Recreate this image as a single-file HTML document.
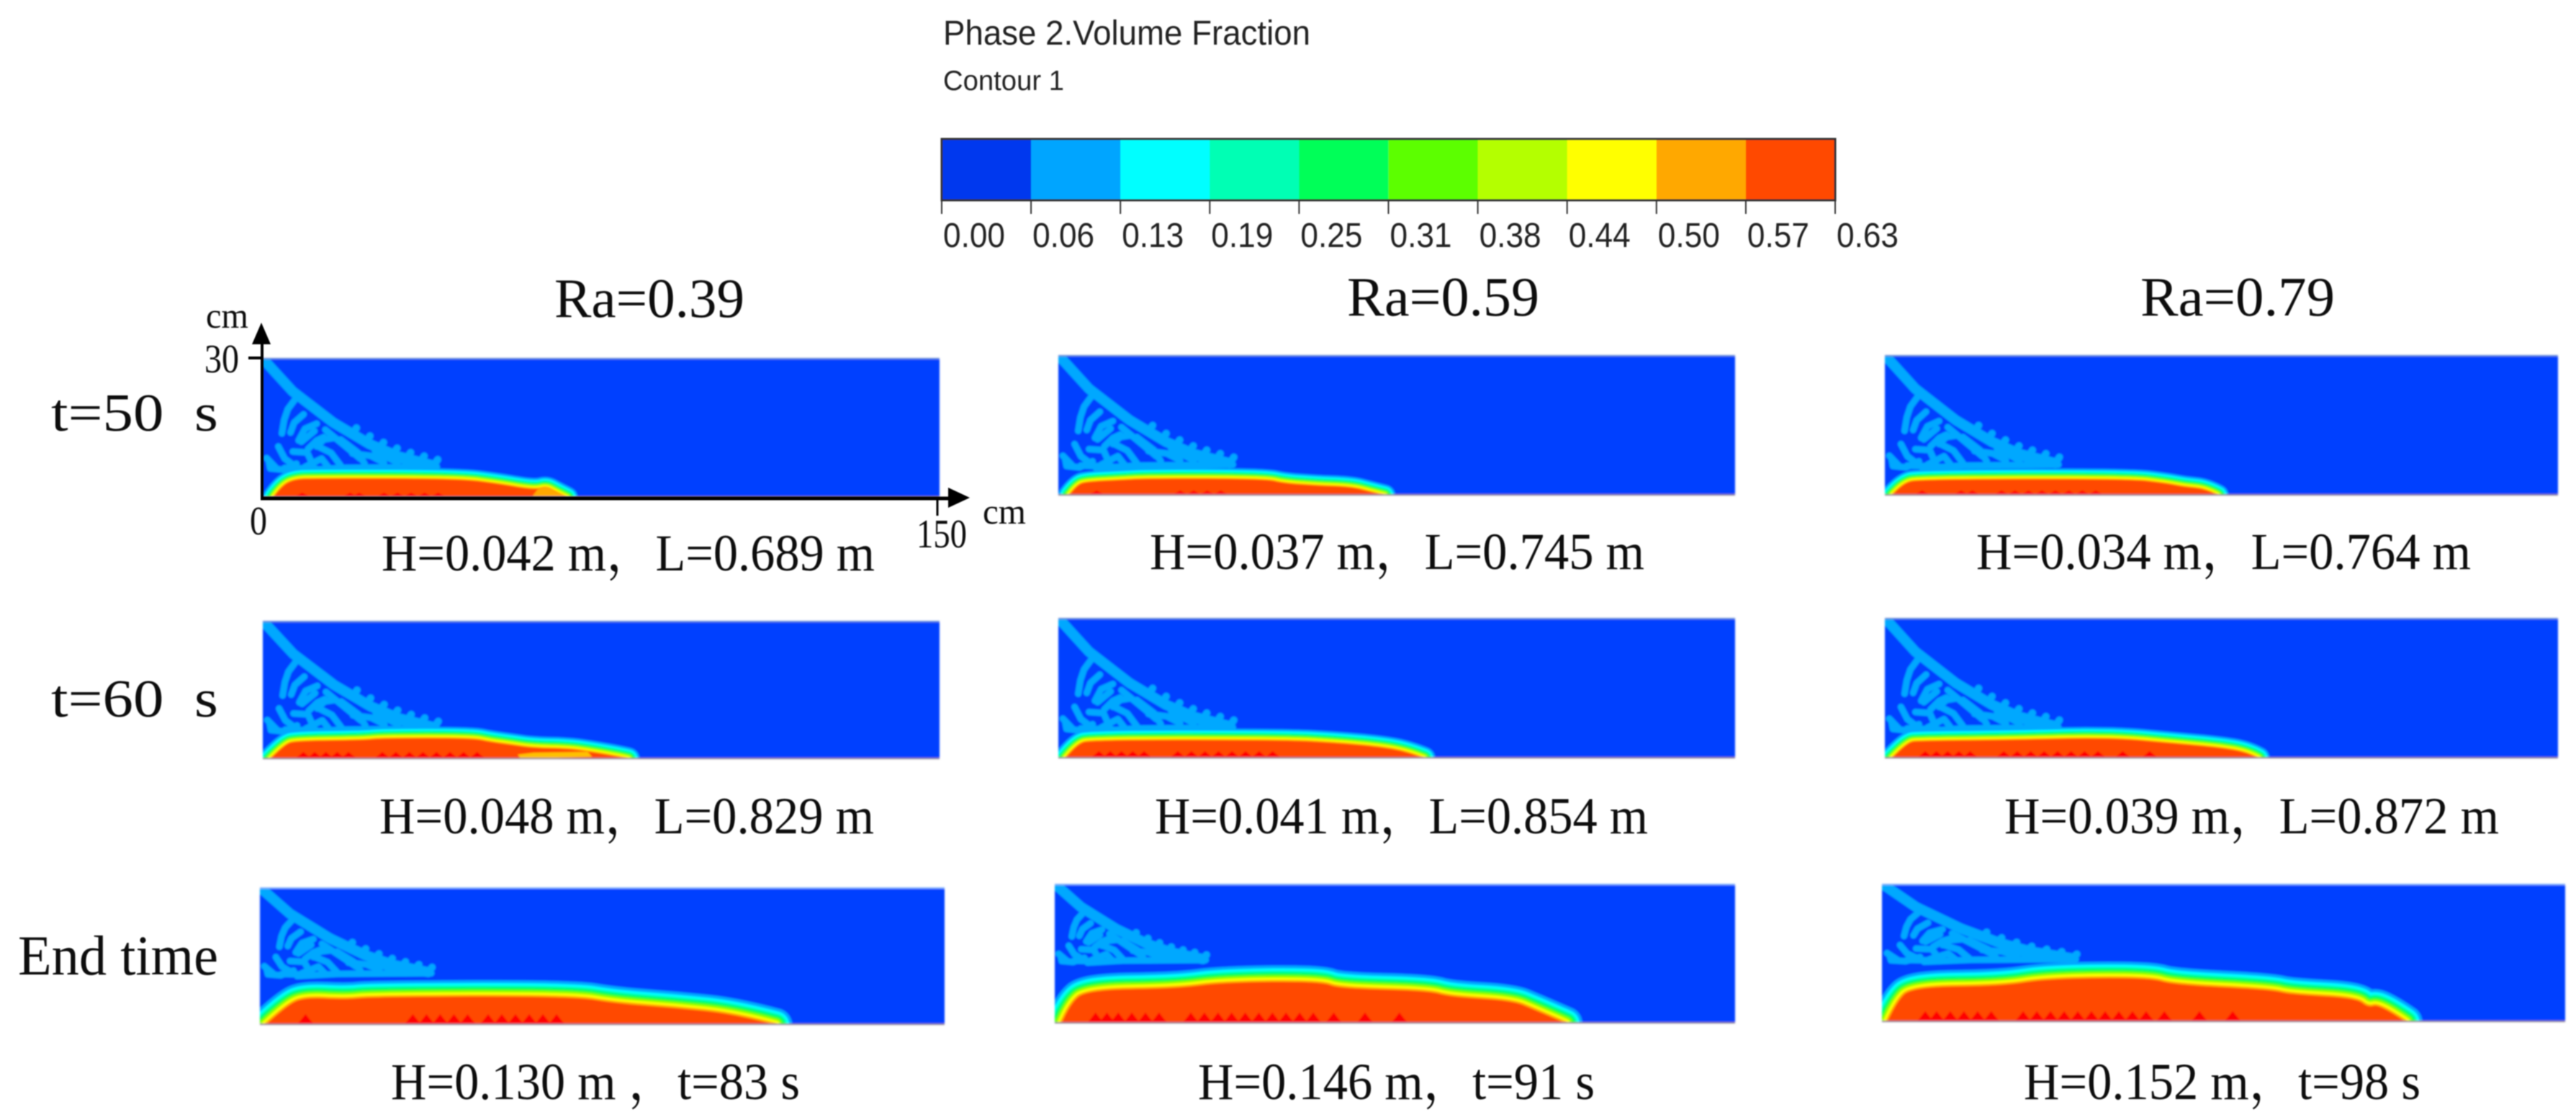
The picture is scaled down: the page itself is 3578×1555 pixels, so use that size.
<!DOCTYPE html>
<html lang="en">
<head>
<meta charset="utf-8">
<title>Phase 2 Volume Fraction Contours</title>
<style>
html,body{margin:0;padding:0;background:#fff;}
svg{display:block;}
.sans{font-family:"Liberation Sans",sans-serif;fill:#222;}
.serif{font-family:"Liberation Serif","Noto Serif CJK SC",serif;fill:#111;}
</style>
</head>
<body>
<svg id="figure" xmlns="http://www.w3.org/2000/svg" width="3578" height="1555" viewBox="0 0 3578 1555">
<defs>
<filter id="soft" x="-2%" y="-2%" width="104%" height="104%"><feGaussianBlur stdDeviation="1.2"/></filter>
<filter id="softText" x="-2%" y="-2%" width="104%" height="104%"><feGaussianBlur stdDeviation="0.7"/></filter>
</defs>
<rect width="3578" height="1555" fill="#fff"/>
<g id="panels" filter="url(#soft)"></g>
<g id="colorbar" filter="url(#softText)"></g>
<g filter="url(#softText)">
<text class="sans" x="1310" y="62" font-size="48" textLength="510" lengthAdjust="spacingAndGlyphs">Phase 2.Volume Fraction</text>
<text class="sans" x="1310" y="125" font-size="39" textLength="168" lengthAdjust="spacingAndGlyphs">Contour 1</text>
</g>
<g filter="url(#softText)">
<line x1="364" y1="470" x2="364" y2="694" stroke="#000" stroke-width="4"/>
<polygon points="363,448 350,478 376,478" fill="#000"/>
<line x1="362" y1="692" x2="1320" y2="692" stroke="#000" stroke-width="5"/>
<polygon points="1347,691 1317,677 1317,705" fill="#000"/>
<line x1="345" y1="497" x2="364" y2="497" stroke="#000" stroke-width="4"/>
<line x1="1302" y1="692" x2="1302" y2="716" stroke="#000" stroke-width="3"/>
</g>
<g filter="url(#softText)">
<text class="serif" x="286" y="455" font-size="50" textLength="59" lengthAdjust="spacingAndGlyphs">cm</text>
<text class="serif" x="284" y="517" font-size="56" textLength="48" lengthAdjust="spacingAndGlyphs">30</text>
<text class="serif" x="347" y="742" font-size="56" textLength="24" lengthAdjust="spacingAndGlyphs">0</text>
<text class="serif" x="1273" y="760" font-size="56" textLength="70" lengthAdjust="spacingAndGlyphs">150</text>
<text class="serif" x="1365" y="727" font-size="50" textLength="60" lengthAdjust="spacingAndGlyphs">cm</text>

<text class="serif" x="770" y="440" font-size="77" textLength="264" lengthAdjust="spacingAndGlyphs">Ra=0.39</text>
<text class="serif" x="1871" y="438" font-size="77" textLength="267" lengthAdjust="spacingAndGlyphs">Ra=0.59</text>
<text class="serif" x="2973" y="438" font-size="77" textLength="270" lengthAdjust="spacingAndGlyphs">Ra=0.79</text>

<text class="serif" x="71" y="598" font-size="74" textLength="232" lengthAdjust="spacingAndGlyphs">t=50&#160;&#160;s</text>
<text class="serif" x="71" y="995" font-size="74" textLength="232" lengthAdjust="spacingAndGlyphs">t=60&#160;&#160;s</text>
<text class="serif" x="25" y="1353" font-size="78" textLength="278" lengthAdjust="spacingAndGlyphs">End time</text>

<text class="serif" x="530" y="792" font-size="72" textLength="685" lengthAdjust="spacingAndGlyphs">H=0.042 m，L=0.689 m</text>
<text class="serif" x="1597" y="790" font-size="72" textLength="687" lengthAdjust="spacingAndGlyphs">H=0.037 m，L=0.745 m</text>
<text class="serif" x="2745" y="790" font-size="72" textLength="687" lengthAdjust="spacingAndGlyphs">H=0.034 m，L=0.764 m</text>
<text class="serif" x="527" y="1157" font-size="72" textLength="687" lengthAdjust="spacingAndGlyphs">H=0.048 m，L=0.829 m</text>
<text class="serif" x="1604" y="1157" font-size="72" textLength="685" lengthAdjust="spacingAndGlyphs">H=0.041 m，L=0.854 m</text>
<text class="serif" x="2784" y="1157" font-size="72" textLength="687" lengthAdjust="spacingAndGlyphs">H=0.039 m，L=0.872 m</text>
<text class="serif" x="543" y="1526" font-size="72" textLength="568" lengthAdjust="spacingAndGlyphs">H=0.130 m ，t=83 s</text>
<text class="serif" x="1664" y="1526" font-size="72" textLength="551" lengthAdjust="spacingAndGlyphs">H=0.146 m，t=91 s</text>
<text class="serif" x="2811" y="1526" font-size="72" textLength="551" lengthAdjust="spacingAndGlyphs">H=0.152 m，t=98 s</text>
</g>
</svg>
<script>
// ---- Colorbar data ----
const colorbarTickLabels = ['0.00','0.06','0.13','0.19','0.25','0.31','0.38','0.44','0.50','0.57','0.63'];
const colorbarColors = ['#0038ee','#00a5ff','#00ffff','#00ffb4','#00ff59','#5cff00','#b4ff00','#ffff00','#ffa800','#ff4800'];

// ---- Sediment bed 0.57 contour: distance x (cm), height h (cm) ----
const r1c1X = [2.5,4.1,6.8,12,44,52,58,61,63,65,67.5];
const r1c1H = [0,2.2,3.9,4.1,4.0,3.0,2.0,1.8,2.3,1.2,0];
const r1c2X = [2.4,4.2,6.4,14.4,19.7,46,50,57,65,69,72.3];
const r1c2H = [0,2.3,2.9,3.3,3.6,3.5,2.6,2.1,1.8,0.8,0];
const r1c3X = [1.6,4,7.7,54.5,62.5,66.8,71.5,74.2];
const r1c3H = [0,2.6,3.4,3.5,2.6,1.8,1.4,0];
const r2c1X = [1.7,4.9,7.4,22.5,26.3,46.5,50.3,55,59.7,68,73,79.3,81];
const r2c1H = [0,3.2,3.9,4.1,4.5,4.5,3.7,3.1,2.4,2.2,1.5,0.4,0];
const r2c2X = [1.6,4.1,7.2,50,61.4,70.9,77.2,81];
const r2c2H = [0,3,3.9,3.9,3.3,2.5,1.45,0];
const r2c3X = [1.6,5,7.5,27,50.4,65,74.4,80.7,83.2];
const r2c3H = [0,3.4,3.7,3.9,4.4,3.1,2.3,1.3,0];
const r3c1X = [1.3,5.8,9.8,18.9,24.1,68.6,77.8,90.8,103.9,113];
const r3c1H = [0,4.2,6,5.5,6.1,6.2,4.7,3.7,2.4,0];
const r3c2X = [1.5,3.3,7,27,37,58.9,62.5,82.5,87.1,100.8,105.4,112.7];
const r3c2H = [0,4.1,7.2,7.5,8.8,9,7.5,7,5.7,4.9,3.1,0];
const r3c3X = [1.2,3.2,6.6,26.4,36.2,58.9,63.8,85.5,89.4,104.2,106.7,109.2,115];
const r3c3H = [0,4.4,7.6,7.8,9.4,9.6,8.1,7,6,5.2,3.1,3.9,0];

// ---- Lower-concentration patches inside the bed ----
const r1c1PatchX = [60,61,63,65,67,67.5,60];
const r1c1PatchH = [0.5,1.8,2.3,1.2,0.4,0,0];
const r2c1PatchX = [56.5,60,72,73,60,57];
const r2c1PatchH = [1.0,1.4,1.6,0.5,0.2,0.3];

// ---- Dense bright-red deposits at the floor (centre x, cm) ----
const r1c1Teeth = [8.9,19.5,21.5,27,30,33,36,39];
const r1c2Teeth = [8.5,27,30,33,36];
const r1c3Teeth = [8.3,17,19.5,26,29,32,35,38,41,44,47];
const r2c1Teeth = [9,11.5,14,16.5,19,26.5,29.5,32.5,35.5,38.5,41.5,44.5,47.5];
const r2c2Teeth = [9,11.5,14,16.5,19,26.5,29.5,32.5,35.5,38.5,41.5,44.5,47.5];
const r2c3Teeth = [9,11.5,14,16.5,19,26.5,29.5,32.5,35.5,38.5,41.5,44.5,47.5,53,59];
const r3c1Teeth = [10,33.5,36.5,39.5,42.5,45.5,50,53,56,59,62,65];
const r3c2Teeth = [9,11.5,14,17,20,23,30,33,36,39,42,45,48,51,54,57,61.5,68.4,76];
const r3c3Teeth = [9.5,12,15,18,21,24,31,34,37,40,43,46,49,52,55,58,62,69.7,77];

// ---- Falling jet plume (cm) ----
const plumeX = [0,6.8,15.8,23.8,30,38];
const plumeH = [30,22.8,16.1,11.5,8.9,6.9];
const plumeToothX = [20,23,26,29,32,35,38];
const fingerA = [[7.6,21.5],[5.7,19],[4.9,16.7],[4.4,13.8]];
const fingerB = [[9.2,17.9],[7.1,16.1],[6.3,14]];
const fingerC = [[12.1,15.9],[9.5,14.8],[8.1,12.3]];
const fingerD = [[11.6,14.3],[8.7,12]];
const fingerE = [[13.7,13],[12.1,12.3],[10.2,10.5]];
const fingerF = [[15.8,12.8],[13.7,12.5],[12.1,11]];
const fingerG = [[3.6,11],[5,8.4],[6.8,7.1]];
const fingerH = [[1.5,7.9],[1.8,6.3],[4.7,6],[7.6,7.3]];
const fingerI = [[6.8,9.9],[10,9.7],[11.3,6.9]];
const fingerJ = [[12.6,10.9],[15.3,9.6],[17.4,6.9]];
const fingerK = [[14,14.6],[18.5,11],[21.7,8.4]];
const fingerL = [[9.5,6.6],[13.2,8.4],[14.8,6.4]];
const fingerM = [[17.4,12.5],[21.2,9.7],[22.7,7.3]];
const fingerN = [[8.4,5.8],[17.4,6.4],[38.7,6.6]];
const fingerO = [[20,9.5],[24,9],[27,7.5]];
const fingerP = [[25,10],[30,7.5]];
const fingerQ = [[31,8],[35,6.8]];
const fingerR = [[1,8.5],[3,6.5]];
const fingerS = [[5,6.4],[12,6.2]];
const fingerList = [fingerA,fingerB,fingerC,fingerD,fingerE,fingerF,fingerG,fingerH,fingerI,fingerJ,fingerK,fingerL,fingerM,fingerN,fingerO,fingerP,fingerQ,fingerR,fingerS];

// ---- Layout and style ----
const SVGNS = 'http://www.w3.org/2000/svg';
const domainX = 150, domainH = 30;
const bandColors = ['#00a8ff','#00ffff','#00ffb0','#00ff55','#5cff00','#b4ff00','#ffff00','#ffa800'];
const bandFractions = [1,0.82,0.68,0.56,0.44,0.34,0.24,0.12];
const rowBandPx = [15,16,23];
const rowToothH = [1.1,1.6,2.4];

const panelDefs = [
  {id:'r1-c1',row:0,left:364,right:1305,top:497,bottom:691,sx:1,drop:1,x:r1c1X,h:r1c1H,teeth:r1c1Teeth,px:r1c1PatchX,ph:r1c1PatchH,pc:'#ffa800'},
  {id:'r1-c2',row:0,left:1470,right:2410,top:493,bottom:688,sx:1,drop:1,x:r1c2X,h:r1c2H,teeth:r1c2Teeth},
  {id:'r1-c3',row:0,left:2618,right:3553,top:493,bottom:688,sx:1,drop:1,x:r1c3X,h:r1c3H,teeth:r1c3Teeth},
  {id:'r2-c1',row:1,left:365,right:1305,top:862,bottom:1054,sx:1,drop:1,x:r2c1X,h:r2c1H,teeth:r2c1Teeth,px:r2c1PatchX,ph:r2c1PatchH,pc:'#ffc000'},
  {id:'r2-c2',row:1,left:1470,right:2410,top:858,bottom:1053,sx:1,drop:1,x:r2c2X,h:r2c2H,teeth:r2c2Teeth},
  {id:'r2-c3',row:1,left:2618,right:3553,top:858,bottom:1053,sx:1,drop:1,x:r2c3X,h:r2c3H,teeth:r2c3Teeth},
  {id:'r3-c1',row:2,left:361,right:1312,top:1232,bottom:1423,sx:0.97,drop:0.8,x:r3c1X,h:r3c1H,teeth:r3c1Teeth},
  {id:'r3-c2',row:2,left:1465,right:2410,top:1227,bottom:1421,sx:0.86,drop:0.7,x:r3c2X,h:r3c2H,teeth:r3c2Teeth},
  {id:'r3-c3',row:2,left:2614,right:3563,top:1227,bottom:1419,sx:1.1,drop:0.7,x:r3c3X,h:r3c3H,teeth:r3c3Teeth}
];

function mk(tag, parent){
  const el = document.createElementNS(SVGNS, tag);
  parent.appendChild(el);
  return el;
}
function scaleX(p, cm){ return p.left + cm / domainX * (p.right - p.left); }
function scaleY(p, cm){ return p.bottom - cm / domainH * (p.bottom - p.top); }
function pathFrom(p, xs, hs, close){
  let d = '';
  for (let i = 0; i < xs.length; i++) {
    d += (i ? 'L' : 'M') + scaleX(p, xs[i]).toFixed(1) + ' ' + scaleY(p, hs[i]).toFixed(1);
  }
  return d + (close ? 'Z' : '');
}
function smoothPath(p, xs, hs){
  let d = 'M' + scaleX(p, xs[0]).toFixed(1) + ' ' + scaleY(p, hs[0]).toFixed(1);
  for (let i = 1; i < xs.length - 1; i++) {
    const cx = scaleX(p, xs[i]), cy = scaleY(p, hs[i]);
    const nx = scaleX(p, xs[i + 1]), ny = scaleY(p, hs[i + 1]);
    const last = i === xs.length - 2;
    const ex = last ? nx : (cx + nx) / 2, ey = last ? ny : (cy + ny) / 2;
    d += 'Q' + cx.toFixed(1) + ' ' + cy.toFixed(1) + ' ' + ex.toFixed(1) + ' ' + ey.toFixed(1);
  }
  return d + 'Z';
}
function plumeAt(x){
  for (let i = 1; i < plumeX.length; i++) {
    if (x <= plumeX[i]) {
      const t = (x - plumeX[i-1]) / (plumeX[i] - plumeX[i-1]);
      return plumeH[i-1] + t * (plumeH[i] - plumeH[i-1]);
    }
  }
  return plumeH[plumeH.length - 1];
}

// ---- Colorbar ----
(function(){
  const root = document.getElementById('colorbar');
  const barL = 1308, barR = 2549, barT = 193, barB = 278, tickEnd = 297;
  const n = colorbarColors.length;
  const step = (barR - barL) / n;
  colorbarColors.forEach(function(c, i){
    const r = mk('rect', root);
    
    
    r.setAttribute('x', barL + i * step);
    r.setAttribute('y', barT);
    r.setAttribute('width', step + 0.5);
    r.setAttribute('height', barB - barT);
    r.setAttribute('fill', c);
  });
  const frame = mk('rect', root);
  
  
  frame.setAttribute('x', barL);
  frame.setAttribute('y', barT);
  frame.setAttribute('width', barR - barL);
  frame.setAttribute('height', barB - barT);
  frame.setAttribute('fill', 'none');
  frame.setAttribute('stroke', '#333');
  frame.setAttribute('stroke-width', '3');
  colorbarTickLabels.forEach(function(lbl, i){
    const x = barL + i * step;
    const t = mk('line', root);
    
    
    t.setAttribute('x1', x);
    t.setAttribute('x2', x);
    t.setAttribute('y1', barB);
    t.setAttribute('y2', tickEnd);
    t.setAttribute('stroke', '#333');
    t.setAttribute('stroke-width', '2');
    const l = mk('text', root);
    
    
    l.setAttribute('class', 'sans');
    l.setAttribute('x', x + 2);
    l.setAttribute('y', 343);
    l.setAttribute('font-size', '48');
    l.setAttribute('textLength', '86');
    l.setAttribute('lengthAdjust', 'spacingAndGlyphs');
    l.textContent = lbl;
  });
})();

// ---- Panels ----
(function(){
  const root = document.getElementById('panels');
  const defs = document.querySelector('defs');
  panelDefs.forEach(function(p){
    const clip = mk('clipPath', defs);
    clip.setAttribute('id', 'clip-' + p.id);
    const cr = mk('rect', clip);
    cr.setAttribute('x', p.left);
    cr.setAttribute('y', p.top);
    cr.setAttribute('width', p.right - p.left);
    cr.setAttribute('height', p.bottom - p.top);

    const g = mk('g', root);
    
    
    g.setAttribute('clip-path', 'url(#clip-' + p.id + ')');

    const bg = mk('rect', g);
    
    
    bg.setAttribute('x', p.left);
    bg.setAttribute('y', p.top);
    bg.setAttribute('width', p.right - p.left);
    bg.setAttribute('height', p.bottom - p.top);
    bg.setAttribute('fill', '#0040ff');

    // plume
    const ph = function(h){ return domainH - (domainH - h) * p.drop; };
    const px = function(x){ return x * p.sx; };
    const plume = mk('path', g);
    
    
    plume.setAttribute('d', pathFrom(p, plumeX.map(px), plumeH.map(ph), false));
    plume.setAttribute('fill', 'none');
    plume.setAttribute('stroke', '#00a8ff');
    plume.setAttribute('stroke-width', '14');
    plume.setAttribute('stroke-linecap', 'round');
    plume.setAttribute('stroke-linejoin', 'round');

    plumeToothX.forEach(function(x){
      const h = plumeAt(x);
      const tooth = mk('path', g);
      
      
      tooth.setAttribute('d', pathFrom(p, [px(x), px(x + 0.9)], [ph(h), ph(h + 1.3)], false));
      tooth.setAttribute('stroke', '#00a8ff');
      tooth.setAttribute('stroke-width', '10');
      tooth.setAttribute('stroke-linecap', 'round');
      tooth.setAttribute('fill', 'none');
    });

    fingerList.forEach(function(f){
      const line = mk('path', g);
      
      
      line.setAttribute('d', pathFrom(p, f.map(function(q){return px(q[0]);}), f.map(function(q){return ph(q[1]);}), false));
      line.setAttribute('fill', 'none');
      line.setAttribute('stroke', '#00a8ff');
      line.setAttribute('stroke-width', '9');
      line.setAttribute('stroke-linecap', 'round');
      line.setAttribute('stroke-linejoin', 'round');
    });

    // bed contour bands (outer to inner)
    const bedPath = smoothPath(p, p.x, p.h);
    const D = rowBandPx[p.row];
    bandColors.forEach(function(c, i){
      const band = mk('path', g);
      
      
      band.setAttribute('d', bedPath);
      band.setAttribute('fill', c);
      band.setAttribute('stroke', c);
      band.setAttribute('stroke-width', 2 * D * bandFractions[i]);
      band.setAttribute('stroke-linejoin', 'round');
    });
    const core = mk('path', g);
    
    
    core.setAttribute('d', bedPath);
    core.setAttribute('fill', '#ff4800');

    if (p.px) {
      const patch = mk('path', g);
      
      
      patch.setAttribute('d', pathFrom(p, p.px, p.ph, true));
      patch.setAttribute('fill', p.pc);
    }

    const th = rowToothH[p.row];
    p.teeth.forEach(function(x){
      const tooth = mk('path', g);
      
      
      tooth.setAttribute('d', pathFrom(p, [x - 1.9, x, x + 1.9], [0, th, 0], true));
      tooth.setAttribute('fill', '#ff0000');
    });

    // edges
    const top = mk('rect', g);
    
    
    top.setAttribute('x', p.left);
    top.setAttribute('y', p.top);
    top.setAttribute('width', p.right - p.left);
    top.setAttribute('height', 2);
    top.setAttribute('fill', p.row === 2 ? '#7fb0ff' : '#5f86d8');
    const bot = mk('rect', g);
    
    
    bot.setAttribute('x', p.left);
    bot.setAttribute('y', p.bottom - 2);
    bot.setAttribute('width', p.right - p.left);
    bot.setAttribute('height', 2);
    bot.setAttribute('fill', '#8a7f90');
  });
})();
</script>
</body>
</html>
